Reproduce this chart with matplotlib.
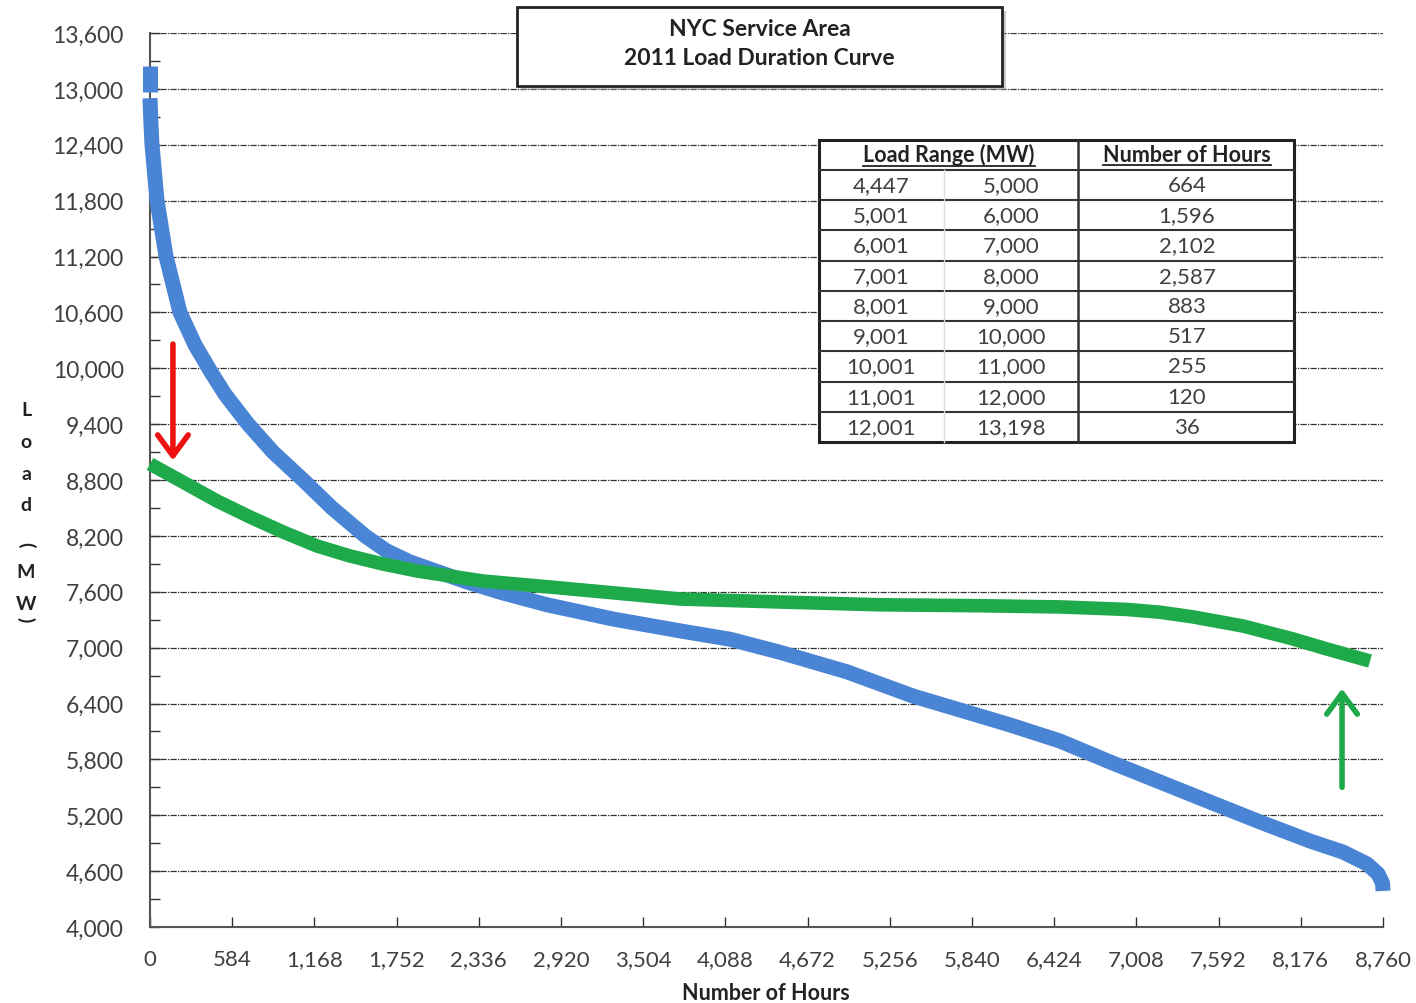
import matplotlib
matplotlib.use("Agg")
import matplotlib.pyplot as plt
from matplotlib.patches import Rectangle
from matplotlib.lines import Line2D

# ---------------- data ----------------
blue_peak_hours = [0, 0]
blue_peak_mw = [13245, 12966]
blue_hours = [0, 6, 14, 50, 114, 213, 320, 433, 533, 697, 874, 1088, 1293, 1528, 1680, 1847,
              2252, 2500, 2821, 3290, 3766, 4121, 4476, 4952, 5421, 5755, 6110, 6465, 6821,
              7176, 7531, 7886, 8242, 8476, 8647, 8725, 8757, 8760]
blue_mw = [12900, 12650, 12400, 11800, 11200, 10600, 10250, 9960, 9720, 9400, 9100, 8800,
           8500, 8200, 8040, 7920, 7705, 7590, 7460, 7307, 7180, 7090, 6950, 6740, 6480, 6330,
           6170, 5997, 5772, 5557, 5342, 5128, 4923, 4805, 4677, 4570, 4470, 4387]

green_hours = [0, 234, 476, 710, 945, 1187, 1421, 1655, 1897, 2131, 2366, 2842, 3766, 4476,
               5187, 5897, 6465, 6941, 7176, 7410, 7766, 8121, 8362, 8668]
green_mw = [8972, 8778, 8575, 8403, 8242, 8091, 7984, 7898, 7823, 7769, 7715, 7651, 7522,
            7490, 7460, 7450, 7437, 7410, 7380, 7330, 7232, 7093, 6985, 6856]

red_arrow_x = [163, 163]
red_arrow_y = [10260, 9010]
green_arrow_x = [8469, 8469]
green_arrow_y = [5500, 6560]

x_ticks = [0, 584, 1168, 1752, 2336, 2920, 3504, 4088, 4672, 5256, 5840, 6424, 7008,
           7592, 8176, 8760]
y_ticks = list(range(4000, 13601, 600))

title_lines = ["NYC Service Area", "2011 Load Duration Curve"]
table_low = ["4,447", "5,001", "6,001", "7,001", "8,001", "9,001", "10,001", "11,001", "12,001"]
table_high = ["5,000", "6,000", "7,000", "8,000", "9,000", "10,000", "11,000", "12,000", "13,198"]
table_hours = ["664", "1,596", "2,102", "2,587", "883", "517", "255", "120", "36"]
table_headers = ["Load Range (MW)", "Number of Hours"]
ylabel_chars = ["L", "o", "a", "d", "(", "M", "W", ")"]
xlabel = "Number of Hours"

# ---------------- figure ----------------
W, H = 1416, 1004
fig = plt.figure(figsize=(W / 100, H / 100), dpi=100)
plt.rcParams['font.family'] = ['Lato', 'DejaVu Sans']

def fx(px):
    return px / W

def fy(py):
    return 1 - py / H

ax = fig.add_axes([fx(150), fy(928), fx(1383) - fx(150), fy(34) - fy(928)])
ax.set_xlim(0, 8760)
ax.set_ylim(4000, 13600)

ax.set_xticks(x_ticks)
ax.set_xticklabels([f"{v:,}" for v in x_ticks])
ax.set_yticks(y_ticks)
ax.set_yticklabels([f"{v:,}" for v in y_ticks])
ax.set_yticks(list(range(4300, 13600, 600)), minor=True)

tick_color = "#404040"
ax.tick_params(axis='y', which='major', direction='in', length=7, width=1,
               color='#333333', labelsize=16.5, labelcolor=tick_color, pad=19)
ax.tick_params(axis='y', which='minor', direction='in', length=7, width=1, color='#333333')
ax.tick_params(axis='x', which='major', direction='in', length=7, width=1,
               color='#333333', labelsize=16, labelcolor=tick_color, pad=16)

for s in ['top', 'right']:
    ax.spines[s].set_visible(False)
for s in ['left', 'bottom']:
    ax.spines[s].set_color('#555555')
    ax.spines[s].set_linewidth(1.5)

ax.grid(axis='y', which='major', color='#333333', linestyle=(0, (5, 1, 1, 1)),
        linewidth=0.9)
ax.set_axisbelow(True)

blue = "#4A84D4"
green = "#1EAA4A"
ax.plot(blue_hours, blue_mw, color=blue, linewidth=10.8, solid_capstyle='butt',
        solid_joinstyle='round', zorder=3, clip_on=False)
ax.plot(blue_peak_hours, blue_peak_mw, color=blue, linewidth=10.8, solid_capstyle='butt',
        zorder=3, clip_on=False)
ax.plot(green_hours, green_mw, color=green, linewidth=9.8, solid_capstyle='butt',
        solid_joinstyle='round', zorder=4, clip_on=False)

ax.annotate("", xy=(red_arrow_x[1], red_arrow_y[1]), xytext=(red_arrow_x[0], red_arrow_y[0]),
            arrowprops=dict(arrowstyle='->,head_length=1.5,head_width=1.1',
                            color='#EE1111', lw=4, shrinkA=0, shrinkB=0), zorder=5)
ax.annotate("", xy=(green_arrow_x[1], green_arrow_y[1]), xytext=(green_arrow_x[0], green_arrow_y[0]),
            arrowprops=dict(arrowstyle='->,head_length=1.5,head_width=1.1',
                            color=green, lw=4, shrinkA=0, shrinkB=0), zorder=5)

# x label
fig.text(fx(766), fy(994), xlabel, ha='center', va='center', fontsize=15.5,
         fontweight='bold', color='#222222')

# y label stacked
ylab_pos = [411, 443, 474, 506, 545, 572, 604, 620]
for ch, py in zip(ylabel_chars, ylab_pos):
    rot = -90 if ch in "()" else 0
    fig.text(fx(26), fy(py), ch, ha='center', va='center', fontsize=14,
             fontweight='bold', color='#222222', rotation=rot)

# ---------------- title box ----------------
shadow = Rectangle((fx(521), fy(91)), fx(1006) - fx(521), fy(12) - fy(91),
                   transform=fig.transFigure, facecolor='#999999', edgecolor='none',
                   alpha=0.5, zorder=8)
fig.patches.append(shadow)
box = Rectangle((fx(517), fy(87)), fx(1002) - fx(517), fy(8) - fy(87),
                transform=fig.transFigure, facecolor='white', edgecolor='#222222',
                linewidth=2, zorder=9)
fig.patches.append(box)
fig.text(fx(760), fy(30), title_lines[0], ha='center', va='center', fontsize=16.5,
         fontweight='bold', color='#222222', zorder=10)
fig.text(fx(759), fy(59), title_lines[1], ha='center', va='center', fontsize=16.5,
         fontweight='bold', color='#222222', zorder=10)

# ---------------- table ----------------
tl, tr, tt, tb = 819, 1294, 141, 443
c1, c2 = 944, 1078
hdr_b = 171
n = len(table_hours)
row_h = (tb - hdr_b) / n

tbl_bg = Rectangle((fx(tl), fy(tb)), fx(tr) - fx(tl), fy(tt) - fy(tb),
                   transform=fig.transFigure, facecolor='white', edgecolor='#222222',
                   linewidth=2.2, zorder=8)
fig.patches.append(tbl_bg)

def hline(py, x0, x1, color='#333333', lw=1.5):
    fig.add_artist(Line2D([fx(x0), fx(x1)], [fy(py), fy(py)], transform=fig.transFigure,
                          color=color, linewidth=lw, zorder=9))

def vline(px, y0, y1, color='#333333', lw=1.5):
    fig.add_artist(Line2D([fx(px), fx(px)], [fy(y0), fy(y1)], transform=fig.transFigure,
                          color=color, linewidth=lw, zorder=9))

hline(hdr_b, tl, tr)
for i in range(1, n):
    hline(hdr_b + i * row_h, tl, tr)
vline(c2, tt, tb, lw=1.8)
vline(c1, hdr_b, tb, color='#dddddd', lw=1)

hdr_y = (tt + hdr_b) / 2 - 1
t1 = fig.text(fx(949), fy(hdr_y), table_headers[0], ha='center', va='center',
              fontsize=15.5, fontweight='bold', color='#222222', zorder=10)
t2 = fig.text(fx(1187), fy(hdr_y), table_headers[1], ha='center', va='center',
              fontsize=15.5, fontweight='bold', color='#222222', zorder=10)
r = fig.canvas.get_renderer()
for txt in (t1, t2):
    bb = txt.get_window_extent(renderer=r)
    x0, x1 = bb.x0 / W, bb.x1 / W
    yline = (bb.y0 - 0.5) / H
    fig.add_artist(Line2D([x0, x1], [yline, yline], transform=fig.transFigure,
                          color='#222222', linewidth=1.3, zorder=10))

for i in range(n):
    cy = hdr_b + (i + 0.5) * row_h
    fig.text(fx(881), fy(cy), table_low[i], ha='center', va='center', fontsize=16,
             color=tick_color, zorder=10)
    fig.text(fx(1011), fy(cy), table_high[i], ha='center', va='center', fontsize=16,
             color=tick_color, zorder=10)
    fig.text(fx(1187), fy(cy), table_hours[i], ha='center', va='center', fontsize=16,
             color=tick_color, zorder=10)

fig.savefig("out.png", dpi=100, facecolor='white')
